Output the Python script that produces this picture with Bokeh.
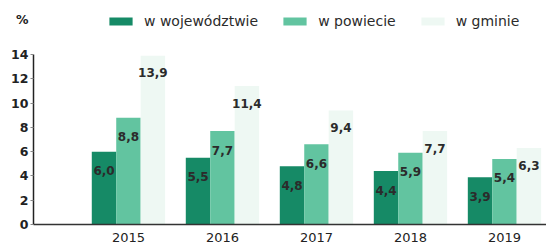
from bokeh.plotting import figure
from bokeh.models import Legend, LegendItem, FixedTicker, ColumnDataSource, LinearAxis
from bokeh.transform import dodge
from bokeh.embed import file_html
from bokeh.resources import INLINE
from bokeh.core.properties import value

years = [2015, 2016, 2017, 2018, 2019]
year_labels = ["2015", "2016", "2017", "2018", "2019"]
wojewodztwo = [6.0, 5.5, 4.8, 4.4, 3.9]
powiat = [8.8, 7.7, 6.6, 5.9, 5.4]
gmina = [13.9, 11.4, 9.4, 7.7, 6.3]
series_names = ["w województwie", "w powiecie", "w gminie"]
y_ticks = [0, 2, 4, 6, 8, 10, 12, 14]
unit_label = "%"

colors = ["#168a66", "#62c4a0", "#eef8f3"]
FONT = "DejaVu Sans"

def fmt(v):
    return f"{v:.1f}".replace(".", ",")

src = ColumnDataSource(dict(
    x=years, a=wojewodztwo, b=powiat, c=gmina,
    la=[fmt(v) for v in wojewodztwo], lb=[fmt(v) for v in powiat], lc=[fmt(v) for v in gmina],
))

Y_TOP = 18.45
p = figure(width=546, height=248, output_backend="svg", toolbar_location=None,
           x_range=(2013.99, 2019.447), y_range=(0, Y_TOP),
           min_border_left=33, min_border_right=0, min_border_top=0, min_border_bottom=24)
p.outline_line_color = None
p.xgrid.visible = False
p.ygrid.visible = False

bw = 0.26
r1 = p.vbar(x=dodge("x", -bw, range=p.x_range), top="a", width=bw, source=src, fill_color=colors[0], line_color=None)
r2 = p.vbar(x=dodge("x", 0, range=p.x_range), top="b", width=bw, source=src, fill_color=colors[1], line_color=None)
r3 = p.vbar(x=dodge("x", bw, range=p.x_range), top="c", width=bw, source=src, fill_color=colors[2], line_color=None)

common = dict(source=src, text_align="center", text_baseline="middle", text_font=value(FONT),
              text_font_size="12px", text_font_style="bold", text_color="#2b2b2b")
p.text(x=dodge("x", -bw, range=p.x_range), y="a", text="la", y_offset=19, **common)
p.text(x=dodge("x", 0, range=p.x_range), y="b", text="lb", y_offset=19, **common)
p.text(x=dodge("x", bw, range=p.x_range), y="c", text="lc", y_offset=17, **common)

# inner axis: axis line and tick marks only (0..14)
yb = p.yaxis[0]
yb.bounds = (0, 14)
yb.ticker = FixedTicker(ticks=[], minor_ticks=y_ticks)
yb.minor_tick_in = 0
yb.minor_tick_out = 3
yb.minor_tick_line_color = "#888888"
yb.major_tick_line_color = None
yb.axis_line_color = "#222222"
yb.axis_line_width = 1.5
yb.major_label_standoff = 0

# outer axis: tick labels and the unit label
pct_pos = 16.9
ya = LinearAxis(ticker=FixedTicker(ticks=y_ticks + [pct_pos], minor_ticks=[]),
                major_label_overrides={pct_pos: unit_label})
ya.axis_line_color = None
ya.major_tick_line_color = None
ya.minor_tick_line_color = None
ya.major_tick_in = 0
ya.major_tick_out = 0
ya.major_label_text_font = FONT
ya.major_label_text_font_size = "12.5px"
ya.major_label_text_font_style = "bold"
ya.major_label_text_color = "#222222"
ya.major_label_standoff = 2
p.add_layout(ya, "left")

p.xaxis.ticker = FixedTicker(ticks=years)
p.xaxis.major_label_overrides = {y: s for y, s in zip(years, year_labels)}
p.xaxis.minor_tick_line_color = None
p.xaxis.major_tick_in = 0
p.xaxis.major_tick_out = 0
p.xaxis.axis_line_color = "#333333"
p.xaxis.axis_line_width = 1.5
p.xaxis.major_label_text_font = FONT
p.xaxis.major_label_text_font_size = "13px"
p.xaxis.major_label_text_color = "#222222"
p.xaxis.major_label_standoff = 8

legend = Legend(items=[LegendItem(label=n, renderers=[r]) for n, r in zip(series_names, [r1, r2, r3])],
                orientation="horizontal", location=(73, 195),
                glyph_width=29, glyph_height=10, label_standoff=9, spacing=22,
                padding=0, margin=0, border_line_color=None, background_fill_alpha=0,
                label_text_font=FONT, label_text_font_size="14px", label_text_color="#2b2b2b")
p.add_layout(legend, "center")

open("out.html", "w").write(file_html(p, INLINE))
